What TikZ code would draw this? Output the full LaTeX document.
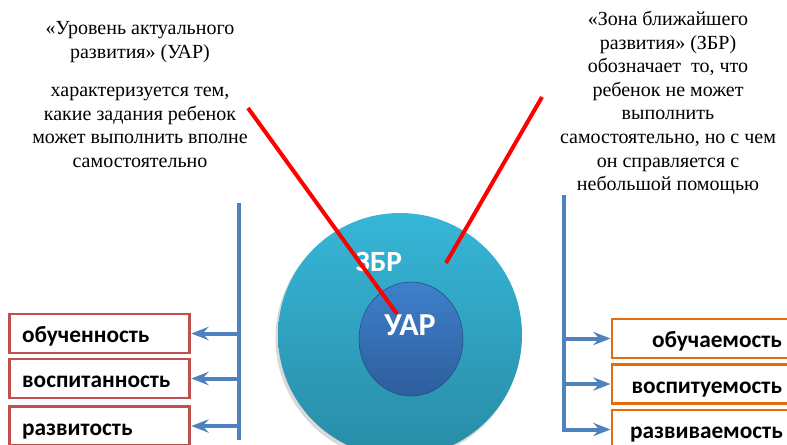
\documentclass[tikz,border=0pt]{standalone}
\usepackage{fontspec}
\setmainfont{Liberation Serif}
\newfontfamily\timesf{Liberation Serif}
\newfontfamily\calib{Carlito}
\usetikzlibrary{shapes.geometric,arrows.meta}
\definecolor{zbrtop}{RGB}{55,182,216}
\definecolor{zbrbot}{RGB}{40,140,166}
\definecolor{uartop}{RGB}{62,128,204}
\definecolor{uarbot}{RGB}{46,94,156}
\definecolor{branchblue}{RGB}{79,129,189}
\definecolor{leftred}{RGB}{192,80,77}
\definecolor{rightorange}{RGB}{228,108,10}

\begin{document}
\begin{tikzpicture}[x=0.75pt,y=-0.75pt,
	note/.style={align=center,inner sep=0pt,font=\timesf\fontsize{15}{17.7}\selectfont},
	leftbox/.style={draw=leftred,line width=2.2pt,fill=white,minimum height=29.25pt,
		text height=14pt,text depth=0pt,
		text width=116pt,inner xsep=9.75pt,align=left,font=\calib\bfseries\fontsize{17.5}{20}\selectfont},
	rightbox/.style={draw=rightorange,line width=2.2pt,fill=white,minimum height=29.25pt,
		text height=14pt,text depth=0pt,
		text width=114pt,inner xsep=13.5pt,align=right,font=\calib\bfseries\fontsize{17.5}{20}\selectfont},
	branch/.style={draw=branchblue,line width=3pt},
	pointer/.style={branch,-{Stealth[length=13pt,width=10pt,inset=4.5pt]}},
	redline/.style={draw=red,line width=3pt},
	circlabel/.style={text=white,inner sep=0pt}]
	\useasboundingbox (0,0) rectangle (787,444);

	% the two zones
	\fill [gray!30] (398,338) circle (122.5);
	\node [circle,inner sep=0pt,minimum size=183pt,top color=zbrtop,bottom color=zbrbot] (zbr) at (400,335) {};
	\node [ellipse,inner sep=0pt,minimum width=78pt,minimum height=85.5pt,draw=uarbot!80!black,line width=0.4pt,
		top color=uartop,bottom color=uarbot] (uar) at (411,339) {};
	\node [circlabel,font=\calib\bfseries\fontsize{22}{26}\selectfont] (zbrlab) at (379,262) {ЗБР};

	% texts above
	\node [note] (uartitle) at (140,42) {«Уровень актуального\\развития» (УАР)};
	\node [note] (uartext) at (140,127.5) {характеризуется тем,\\какие задания ребенок\\может выполнить вполне\\самостоятельно};
	\node [note] (zbrtext) at (668,103) {«Зона ближайшего\\развития» (ЗБР)\\обозначает\ \ то, что\\ребенок не может\\выполнить\\самостоятельно, но с чем\\он справляется с\\небольшой помощью};

	% red pointers
	\coordinate (lstart) at (248,108);
	\coordinate (lend) at (397,314);
	\coordinate (rstart) at (542,97);
	\coordinate (rend) at (446,263);
	\draw [redline] (lstart) -- (lend);
	\draw [redline] (rstart) -- (rend);
	\node [circlabel,font=\calib\bfseries\fontsize{24}{28}\selectfont] (uarlab) at (410,325) {УАР};

	% left side
	\node [leftbox] (ob) at (99.5,333.5) {обученность};
	\node [leftbox] (vo) at (99.5,378.5) {воспитанность};
	\node [leftbox] (ra) at (99.5,426) {развитость};
	\coordinate (ltop) at (239,203);
	\coordinate (lbot) at (239,440);
	\draw [branch] (ltop) -- (lbot);
	\draw [pointer] (ltop |- ob.east) -- (ob.east);
	\draw [pointer] (ltop |- vo.east) -- (vo.east);
	\draw [pointer] (ltop |- ra.east) -- (ra.east);

	% right side
	\node [rightbox] (obu) at (706,338.5) {обучаемость};
	\node [rightbox] (vos) at (706,384) {воспитуемость};
	\node [rightbox] (raz) at (706,429.5) {развиваемость};
	\coordinate (rtop) at (564,195);
	\coordinate (rbot) at (564,432);
	\draw [branch] (rtop) -- (rbot);
	\draw [pointer] (rtop |- obu.west) -- (obu.west);
	\draw [pointer] (rtop |- vos.west) -- (vos.west);
	\draw [pointer] (rtop |- raz.west) -- (raz.west);
\end{tikzpicture}
\end{document}
